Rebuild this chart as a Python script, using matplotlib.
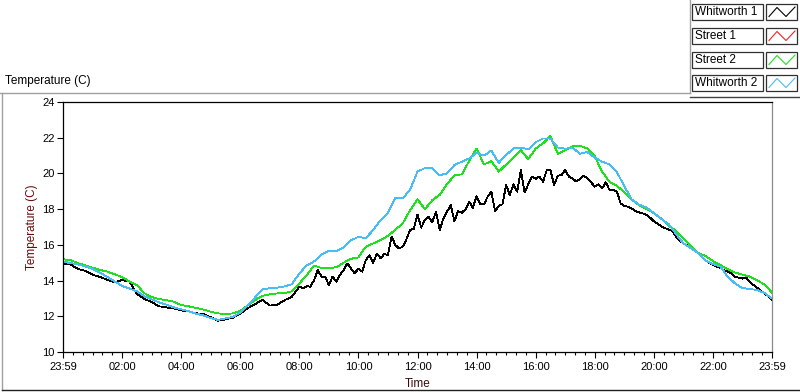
import numpy as np
import matplotlib
matplotlib.use("Agg")
import matplotlib.pyplot as plt
from matplotlib.lines import Line2D
from matplotlib.patches import Rectangle

plt.rcParams['font.family'] = ['Liberation Sans', 'DejaVu Sans']

# ---------------- data ----------------
series_names = ["Whitworth 1", "Street 1", "Street 2", "Whitworth 2"]
series_colors = ["#000000", "#ff2020", "#1ee01e", "#46bdf5"]

tick_hours = [0, 2, 4, 6, 8, 10, 12, 14, 16, 18, 20, 22, 24]
tick_labels = ["23:59", "02:00", "04:00", "06:00", "08:00", "10:00", "12:00",
               "14:00", "16:00", "18:00", "20:00", "22:00", "23:59"]
y_ticks = [10, 12, 14, 16, 18, 20, 22, 24]

# hours after 23:59 for the smoother series (every 15 min)
hours_q = np.arange(0, 24.001, 0.25)

street2 = [15.19, 15.15, 14.98, 14.85, 14.72, 14.6, 14.5, 14.35, 14.2, 13.95, 13.75, 13.3, 13.08, 12.97, 12.9, 12.82,
           12.63, 12.56, 12.47, 12.38, 12.26, 12.16, 12.13, 12.16, 12.3, 12.6, 12.9, 13.15, 13.23, 13.28, 13.3, 13.4,
           13.84, 14.3, 14.85, 14.7, 14.68, 14.75, 15.0, 15.22, 15.3, 15.9, 16.08, 16.27, 16.5, 16.85, 17.2, 17.95,
           18.55, 18.0, 18.5, 18.8, 19.4, 19.9, 19.95, 20.7, 21.4, 20.5, 20.7, 20.1, 20.5, 20.9, 21.3, 20.8,
           21.4, 21.68, 22.1, 21.1, 21.31, 21.52, 21.55, 21.4, 20.96, 20.1, 19.52, 19.31, 18.94, 18.53, 18.22, 18.02,
           17.78, 17.48, 17.08, 16.78, 16.37, 15.95, 15.56, 15.37, 15.09, 14.87, 14.64, 14.45, 14.33, 14.22, 14.02, 13.77,
           13.33]

whitworth2 = [15.06, 14.98, 14.9, 14.8, 14.65, 14.45, 14.2, 13.95, 13.7, 13.55, 13.4, 13.12, 12.95, 12.78, 12.65, 12.5,
              12.39, 12.29, 12.15, 12.05, 11.9, 11.8, 11.88, 11.97, 12.2, 12.6, 13.05, 13.5, 13.57, 13.6, 13.67, 13.8,
              14.4, 14.85, 15.07, 15.45, 15.68, 15.65, 15.85, 16.25, 16.45, 16.38, 16.83, 17.39, 17.8, 18.65, 18.6, 19.1,
              20.1, 20.3, 20.3, 19.9, 20.0, 20.47, 20.66, 20.84, 21.15, 21.0, 21.28, 20.6, 21.03, 21.4, 21.45, 21.35,
              21.75, 21.96, 21.95, 21.45, 21.38, 21.44, 21.1, 21.2, 20.88, 20.66, 20.5, 20.08, 19.28, 18.55, 18.25, 18.1,
              17.78, 17.46, 17.16, 16.62, 16.08, 15.82, 15.54, 15.11, 14.93, 14.78, 14.22, 13.84, 13.58, 13.53, 13.47, 13.3,
              13.0]

street1_hours = []
street1 = []

# Whitworth 1: every 15 min until 08:00, every 7.5 min afterwards
hours_w1 = np.concatenate([np.arange(0, 8, 0.25), np.arange(8, 24, 0.125), [24.0]])
whitworth1 = [14.91, 14.91, 14.65, 14.55, 14.33, 14.2, 14.05, 13.9, 14.03, 13.95, 13.25, 12.97, 12.8, 12.56, 12.5, 12.44,
              12.33, 12.28, 12.17, 12.12, 11.95, 11.75, 11.83, 11.92, 12.15, 12.45, 12.68, 12.93, 12.6, 12.65, 12.9, 13.1,
              13.66, 13.56, 13.69, 13.66, 14.03, 14.59, 14.22, 14.22,
              13.75, 14.22, 13.94, 14.31, 14.59, 14.96, 14.68, 14.4,
              14.68, 14.5, 15.15, 15.43, 15.0, 15.52, 15.24, 15.49,
              15.43, 16.46, 15.99, 15.8, 15.9, 16.31, 16.83, 16.9,
              17.7, 16.96, 17.39, 17.58, 17.26, 17.86, 16.83, 17.48,
              17.86, 18.23, 17.33, 17.89, 17.8, 18.0, 18.42, 18.08,
              18.73, 18.27, 18.27, 18.7, 18.98, 17.89, 18.19, 18.27,
              19.35, 18.79, 19.39, 18.98, 20.19, 18.94, 19.39, 19.82,
              19.7, 19.82, 19.54, 20.19, 20.19, 19.35, 19.87, 19.91,
              20.19, 19.82, 19.72, 19.54, 19.69, 19.87, 19.72, 19.5,
              19.26, 19.39, 19.16, 19.5, 19.07, 19.07, 18.98, 18.32,
              18.17, 18.14, 18.04, 17.89, 17.82, 17.76, 17.67, 17.52,
              17.32, 17.18, 17.04, 16.94, 16.86, 16.77, 16.46, 16.23,
              16.08, 15.98, 15.8, 15.72, 15.54, 15.34, 15.13, 14.99,
              14.89, 14.79, 14.72, 14.58, 14.5, 14.4, 14.22, 14.16,
              14.11, 14.18, 13.9, 13.75, 13.6, 13.43, 13.26, 13.12,
              12.93]

# ---------------- figure ----------------
W, H = 800, 392
fig = plt.figure(figsize=(8, 3.92), dpi=100)
fig.patch.set_facecolor("white")


def fx(x):
    return x / W


def fy(y):
    return 1 - y / H


ax = fig.add_axes([fx(63), fy(352), (772 - 63) / W, (352 - 102) / H])
ax.set_facecolor("white")

lw = 0.6
ax.plot(hours_w1, whitworth1, color=series_colors[0], lw=lw, antialiased=False)
ax.plot(street1_hours, street1, color=series_colors[1], lw=lw, antialiased=False)
ax.plot(hours_q, street2, color=series_colors[2], lw=lw, antialiased=False)
ax.plot(hours_q, whitworth2, color=series_colors[3], lw=lw, antialiased=False)

ax.set_xlim(0, 24)
ax.set_ylim(10, 24)
ax.set_xticks(tick_hours)
ax.set_xticklabels(tick_labels)
ax.set_xticks(np.arange(0, 24.001, 1 / 3), minor=True)
ax.set_yticks(y_ticks)
ax.set_yticklabels([str(v) for v in y_ticks])

ax.tick_params(axis="both", which="major", direction="out", length=4, width=0.8,
               labelsize=8, pad=2, colors="black")
ax.tick_params(axis="x", which="major", length=4.5, pad=3)
ax.tick_params(axis="x", which="minor", direction="out", length=2.5, width=0.8)

for side in ["left", "bottom", "top"]:
    ax.spines[side].set_color("black")
    ax.spines[side].set_linewidth(0.9)
ax.spines["right"].set_color("#8a8a8a")
ax.spines["right"].set_linewidth(0.9)

label_color = "#6a0a0a"
ax.set_ylabel("Temperature (C)", fontsize=8.5, color=label_color)
ax.yaxis.set_label_coords(-0.035, 0.5)
ax.set_xlabel("Time", fontsize=8.5, color="#3a0a0a")
ax.xaxis.set_label_coords(0.5, -0.105)

# panel caption
fig.text(fx(5), fy(81), "Temperature (C)", fontsize=8.5, ha="left", va="center", color="black")

# panel frame lines
def fline(xs, ys, color, lw=1.0):
    fig.add_artist(Line2D([fx(v) for v in xs], [fy(v) for v in ys], transform=fig.transFigure,
                          color=color, lw=lw))

fline([0, 690], [92.5, 92.5], "#a0a0a0")
fline([690, 690], [0, 92.5], "#a0a0a0")
fline([690, 800], [96.5, 96.5], "#404040")
fline([1.5, 1.5], [92.5, 390], "#a0a0a0")
fline([1.5, 800], [390, 390], "#202020")

# plot legend (LabVIEW style)
row_top = [4, 28, 52, 75]
for name, col, top in zip(series_names, series_colors, row_top):
    h = 15.5
    fig.add_artist(Rectangle((fx(692), fy(top + h)), (763 - 692) / W, h / H, transform=fig.transFigure,
                             facecolor="white", edgecolor="#303030", lw=0.9))
    fig.text(fx(695), fy(top + h / 2 + 0.5), name, fontsize=8.5, ha="left", va="center", color="black")
    fig.add_artist(Rectangle((fx(766), fy(top + h)), (797 - 766) / W, h / H, transform=fig.transFigure,
                             facecolor="white", edgecolor="#303030", lw=0.9))
    zx = [769, 777, 786, 795]
    zy = [top + 12.5, top + 3.5, top + 12.5, top + 3]
    fig.add_artist(Line2D([fx(v) for v in zx], [fy(v) for v in zy], transform=fig.transFigure,
                          color=col, lw=0.8))

fig.savefig("out.png", dpi=100)
